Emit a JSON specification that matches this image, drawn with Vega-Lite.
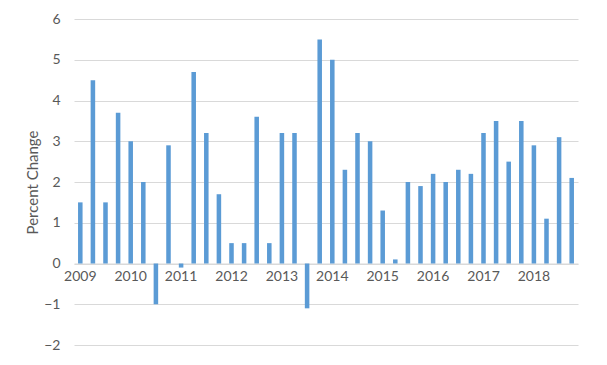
{
  "$schema": "https://vega.github.io/schema/vega-lite/v6.json",
  "width": 504,
  "height": 326,
  "autosize": {"type": "none"},
  "padding": {"left": 74, "top": 19, "right": 29, "bottom": 20},
  "background": "white",
  "config": {
    "view": {"stroke": null},
    "font": "Lato",
    "axis": {"labelFont": "Lato", "titleFont": "Lato", "labelColor": "#595959", "titleColor": "#595959"}
  },
  "data": {
    "values": [
      {"quarter": "2009-Q1", "change": 1.5},
      {"quarter": "2009-Q2", "change": 4.5},
      {"quarter": "2009-Q3", "change": 1.5},
      {"quarter": "2009-Q4", "change": 3.7},
      {"quarter": "2010-Q1", "change": 3.0},
      {"quarter": "2010-Q2", "change": 2.0},
      {"quarter": "2010-Q3", "change": -1.0},
      {"quarter": "2010-Q4", "change": 2.9},
      {"quarter": "2011-Q1", "change": -0.1},
      {"quarter": "2011-Q2", "change": 4.7},
      {"quarter": "2011-Q3", "change": 3.2},
      {"quarter": "2011-Q4", "change": 1.7},
      {"quarter": "2012-Q1", "change": 0.5},
      {"quarter": "2012-Q2", "change": 0.5},
      {"quarter": "2012-Q3", "change": 3.6},
      {"quarter": "2012-Q4", "change": 0.5},
      {"quarter": "2013-Q1", "change": 3.2},
      {"quarter": "2013-Q2", "change": 3.2},
      {"quarter": "2013-Q3", "change": -1.1},
      {"quarter": "2013-Q4", "change": 5.5},
      {"quarter": "2014-Q1", "change": 5.0},
      {"quarter": "2014-Q2", "change": 2.3},
      {"quarter": "2014-Q3", "change": 3.2},
      {"quarter": "2014-Q4", "change": 3.0},
      {"quarter": "2015-Q1", "change": 1.3},
      {"quarter": "2015-Q2", "change": 0.1},
      {"quarter": "2015-Q3", "change": 2.0},
      {"quarter": "2015-Q4", "change": 1.9},
      {"quarter": "2016-Q1", "change": 2.2},
      {"quarter": "2016-Q2", "change": 2.0},
      {"quarter": "2016-Q3", "change": 2.3},
      {"quarter": "2016-Q4", "change": 2.2},
      {"quarter": "2017-Q1", "change": 3.2},
      {"quarter": "2017-Q2", "change": 3.5},
      {"quarter": "2017-Q3", "change": 2.5},
      {"quarter": "2017-Q4", "change": 3.5},
      {"quarter": "2018-Q1", "change": 2.9},
      {"quarter": "2018-Q2", "change": 1.1},
      {"quarter": "2018-Q3", "change": 3.1},
      {"quarter": "2018-Q4", "change": 2.1}
    ]
  },
  "mark": {"type": "bar", "color": "#5b9bd5"},
  "encoding": {
    "x": {
      "field": "quarter",
      "type": "ordinal",
      "sort": null,
      "scale": {"paddingInner": 0.64, "paddingOuter": 0.32},
      "axis": {
        "title": null,
        "labelAngle": 0,
        "labelExpr": "indexof(datum.value, 'Q1') > 0 ? slice(datum.value, 0, 4) : ''",
        "labelOverlap": false,
        "labelFontSize": 14,
        "labelPadding": 6,
        "ticks": false,
        "domainColor": "#d9d9d9",
        "domainWidth": 1,
        "offset": -81.5,
        "zindex": 0
      }
    },
    "y": {
      "field": "change",
      "type": "quantitative",
      "scale": {"domain": [-2, 6], "nice": false},
      "axis": {
        "title": "Percent Change",
        "titleFontSize": 15,
        "titleFontWeight": "normal",
        "titlePadding": 3,
        "values": [-2, -1, 0, 1, 2, 3, 4, 5, 6],
        "labelFontSize": 14,
        "labelPadding": 14,
        "ticks": false,
        "domain": false,
        "gridColor": "#d9d9d9",
        "gridWidth": 1
      }
    }
  }
}
